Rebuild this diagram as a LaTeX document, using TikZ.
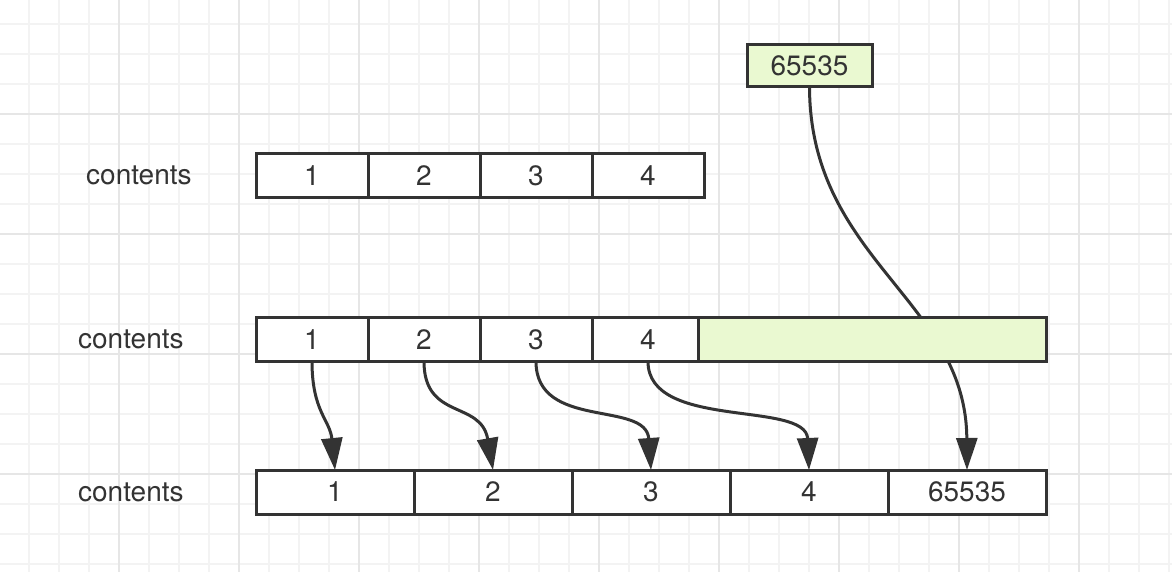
\documentclass[tikz,border=0pt]{standalone}
\usepackage{fontspec}
\setmainfont{TeX Gyre Heros}
\usetikzlibrary{arrows.meta}
\usetikzlibrary{positioning}
\definecolor{ink}{HTML}{333333}
\definecolor{lime}{HTML}{EAF9D1}
\definecolor{gridminor}{HTML}{F3F3F3}
\definecolor{gridmajor}{HTML}{E6E6E6}
\tikzstyle{cell} = [draw=ink, line width=1.5pt, fill=white, outer sep=0pt, inner sep=0pt, minimum height=22pt, text=ink, font=\fontsize{14}{16}\selectfont]
\tikzstyle{narrow} = [cell, minimum width=56pt]
\tikzstyle{wide} = [cell, minimum width=79pt]
\tikzstyle{rowname} = [text=ink, inner sep=0pt, font=\fontsize{14}{16}\selectfont]
\tikzstyle{arrow} = [line width=1.5pt, draw=ink, -{Triangle[length=16pt,width=10.5pt]}]

\begin{document}
\begin{tikzpicture}[x=0.5pt, y=-0.5pt]
\useasboundingbox (0,0) rectangle (1172,572);
\fill[white] (0,0) rectangle (1172,572);
% grid
\foreach \gx in {29,59,...,1169} \draw[gridminor, line width=1pt] (\gx,0) -- (\gx,572);
\foreach \gy in {24,54,...,564} \draw[gridminor, line width=1pt] (0,\gy) -- (1172,\gy);
\foreach \gx in {119,239,...,1079} \draw[gridmajor, line width=1pt] (\gx,0) -- (\gx,572);
\foreach \gy in {114,234,...,474} \draw[gridmajor, line width=1pt] (0,\gy) -- (1172,\gy);

% new array
\node[wide] (c1) at (335,492) {1};
\node[wide, right=0pt of c1] (c2) {2};
\node[wide, right=0pt of c2] (c3) {3};
\node[wide, right=0pt of c3] (c4) {4};
\node[wide, right=0pt of c4] (c5) {65535};
\node[rowname, left=36pt of c1] (n3) {contents};

% value to add
\node[cell, fill=lime, minimum width=62.5pt, minimum height=21pt] (val) at (809.5,66) {65535};
\draw[arrow] (val.south) .. controls (810,260) and (966,300) .. (c5.north);

% grown array
\node[narrow] (b1) at (312,339.5) {1};
\node[narrow, right=0pt of b1] (b2) {2};
\node[narrow, right=0pt of b2] (b3) {3};
\node[narrow, right=0pt of b3] (b4) {4};
\node[cell, fill=lime, minimum width=174pt, right=-3pt of b4] (room) {};
\node[rowname, left=36pt of b1] (n2) {contents};

% old array
\node[narrow] (a1) at (312,175.5) {1};
\node[narrow, right=0pt of a1] (a2) {2};
\node[narrow, right=0pt of a2] (a3) {3};
\node[narrow, right=0pt of a3] (a4) {4};
\node[rowname, left=32pt of a1] (n1) {contents};

% copy
\draw[arrow] (b1.south) .. controls +(0,50) and +(-5,-50) .. (c1.north);
\draw[arrow] (b2.south) .. controls +(0,59) and +(-12,-70) .. (c2.north);
\draw[arrow] (b3.south) .. controls +(0,69) and +(-5,-70) .. (c3.north);
\draw[arrow] (b4.south) .. controls +(0,69) and +(-3,-70) .. (c4.north);
\end{tikzpicture}
\end{document}
